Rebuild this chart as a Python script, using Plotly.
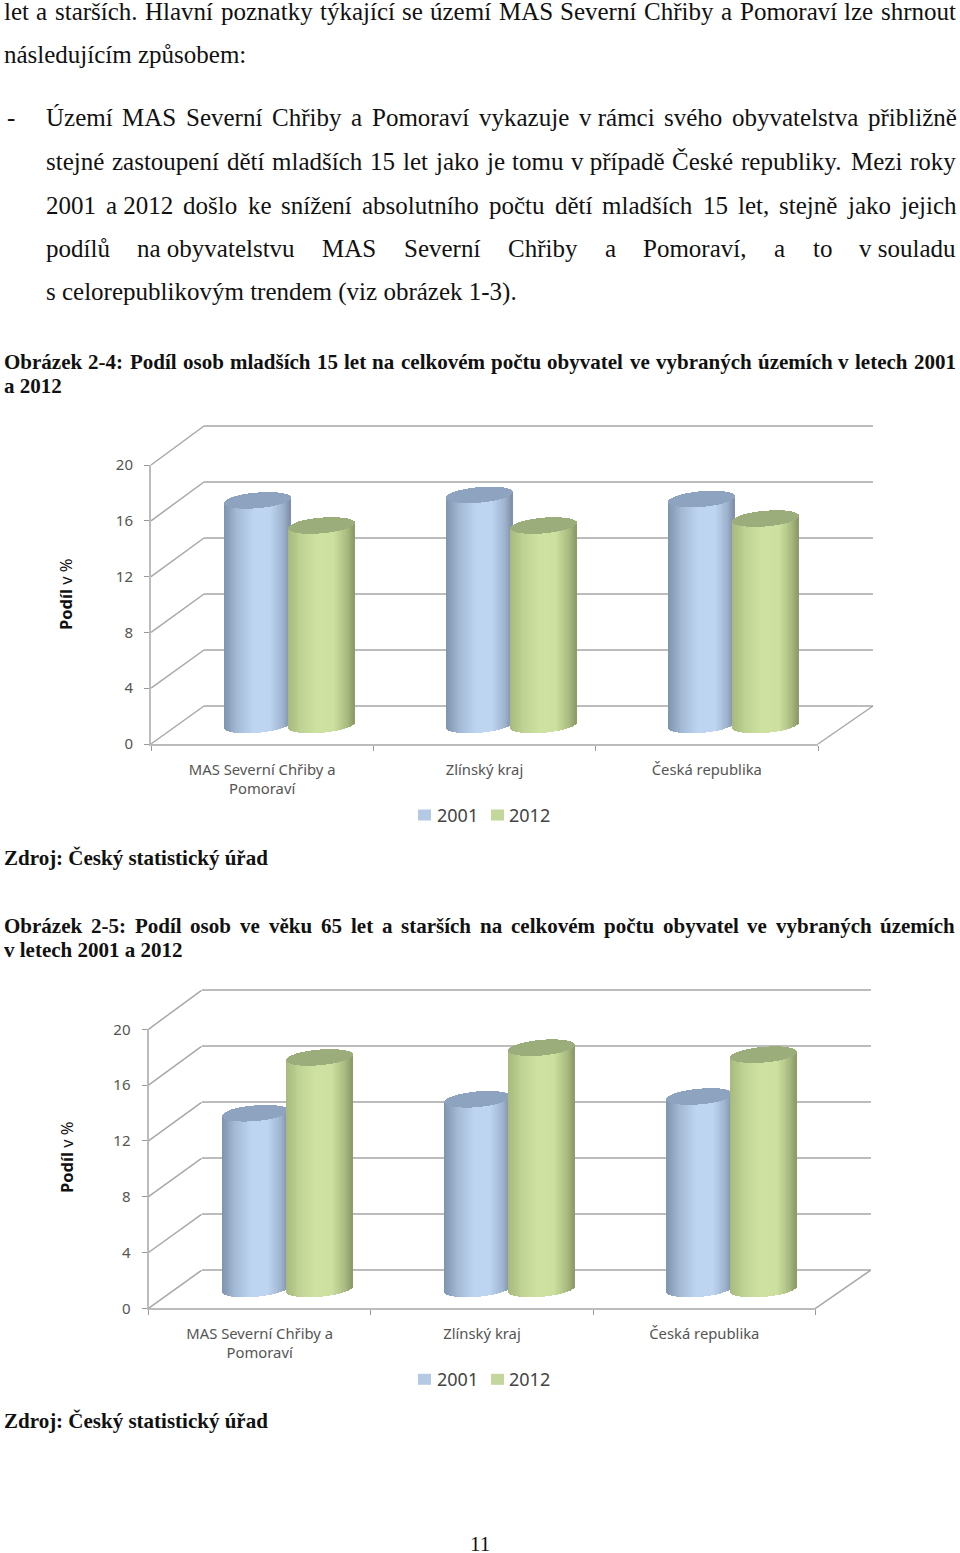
import numpy as np
import plotly.graph_objects as go

W, H = 960, 1553

# ---- data ----
categories = ["MAS Severní Chřiby a<br>Pomoraví", "Zlínský kraj", "Česká republika"]
years = ["2001", "2012"]
young_2001 = [16.1, 16.5, 16.2]
young_2012 = [14.3, 14.3, 14.8]
old_2001 = [12.6, 13.6, 13.8]
old_2012 = [16.6, 17.3, 16.8]
y_ticks = [0, 4, 8, 12, 16, 20]

# ---- page text ----
SERIF = "Liberation Serif"
BODY, CAP = 25, 21
justified = [
    ("let a starších. Hlavní poznatky týkající se území MAS Severní Chřiby a Pomoraví lze shrnout", 4, 956, 11),
    ("Území MAS Severní Chřiby a Pomoraví vykazuje v\u00a0rámci svého obyvatelstva přibližně", 46, 957, 118),
    ("stejné zastoupení dětí mladších 15 let jako je tomu v\u00a0případě České republiky. Mezi roky", 46, 956, 161.5),
    ("2001 a\u00a02012 došlo ke snížení absolutního počtu dětí mladších 15 let, stejně jako jejich", 46, 956, 205),
    ("podílů na\u00a0obyvatelstvu MAS Severní Chřiby a Pomoraví, a to v\u00a0souladu", 46, 956, 248.5),
]
plain = [
    ("následujícím způsobem:", 4, 54),
    ("-", 7, 118),
    ("s\u00a0celorepublikovým trendem (viz obrázek 1-3).", 46, 292),
]
justified_bold = [
    ("Obrázek 2-4: Podíl osob mladších 15 let na celkovém počtu obyvatel ve vybraných územích v letech 2001", 4, 956, 362),
    ("Obrázek 2-5: Podíl osob ve věku 65 let a starších na celkovém počtu obyvatel ve vybraných územích", 4, 955, 926),
]
plain_bold = [
    ("a 2012", 4, 386),
    ("Zdroj: Český statistický úřad", 4, 858),
    ("v\u00a0letech 2001 a 2012", 4, 950),
    ("Zdroj: Český statistický úřad", 4, 1421),
]

# Times-compatible advance widths, used only to justify lines of text
REG = dict(zip("abcdefghijklmnopqrstuvwxyz", [444,500,444,500,444,333,500,500,278,278,500,278,778,500,500,500,500,333,389,278,500,500,722,500,500,444]))
REG.update(zip("ABCDEFGHIJKLMNOPQRSTUVWXYZ", [722,667,667,722,611,556,722,722,333,389,722,611,889,722,722,556,722,667,556,611,722,722,944,722,722,611]))
BLD = dict(zip("abcdefghijklmnopqrstuvwxyz", [500,556,444,556,444,333,500,556,278,333,556,278,833,556,500,556,556,444,389,333,556,500,722,500,500,444]))
BLD.update(zip("ABCDEFGHIJKLMNOPQRSTUVWXYZ", [722,667,722,722,667,611,778,778,389,500,778,667,944,722,778,611,778,722,556,667,722,722,1000,722,722,667]))
ACC = str.maketrans("áčďéěíňóřšťúůýžÁČĎÉĚÍŇÓŘŠŤÚŮÝŽ", "acdeeinorstuuyzACDEEINORSTUUYZ")
def text_width(s, size, table):
    tot = 0
    for c in s.translate(ACC):
        if c.isdigit(): tot += 500
        elif c in " \u00a0,.": tot += 250
        elif c == ":": tot += 278 if table is REG else 333
        elif c in "-()": tot += 333
        else: tot += table.get(c, 500)
    return tot * size / 1000

annotations = []
def px_text(s, x, y, size, bold=False, color="#111111", font=SERIF, **kw):
    annotations.append(dict(text=f"<b>{s}</b>" if bold else s, x=x / W, y=1 - y / H, xref="paper", yref="paper",
                            xanchor=kw.pop("xanchor", "left"), yanchor="middle", showarrow=False, borderpad=0,
                            font=dict(family=font, size=size, color=color), **kw))
def justify(s, x0, x1, y, size, bold=False):
    table = BLD if bold else REG
    words = s.split(" ")
    widths = [text_width(w, size, table) for w in words]
    gap = (x1 - x0 - sum(widths)) / (len(words) - 1)
    x = x0
    for w, wd in zip(words, widths):
        px_text(w, x, y, size, bold)
        x += wd + gap

for s, a, b, y in justified: justify(s, a - 1, b - 1, y, BODY)
for s, x, y in plain: px_text(s, x - 1, y, BODY)
for s, a, b, y in justified_bold: justify(s, a - 1, b - 1, y, CAP, True)
for s, x, y in plain_bold: px_text(s, x - 1, y, CAP, True)
px_text("11", 480, 1544, 21, xanchor="center")

# ---- chart geometry (pixels of the page) ----
SANS = "Noto Sans"
GRID = "#bcbcbc"
PXU = 13.95
charts = [
    dict(vals=(young_2001, young_2012), dx=0.0, dy=0.0, title_y=594),
    dict(vals=(old_2001, old_2012), dx=-2.5, dy=564.3, title_y=1157),
]
BLUE = dict(name=years[0], solid="#b4c9e3", cap="#8ea3bf",
            stops=["#7f94ae", "#a3b9d4", "#bed5f1", "#bed5f1", "#9db2cd", "#7e90a9"])
GREEN = dict(name=years[1], solid="#c3d69b", cap="#9bad7a",
             stops=["#a8ba7e", "#bfd394", "#cfe2a1", "#cde09f", "#a9ba80", "#8b9a68"])
STOP_U = [-1, -0.6, -0.1, 0.4, 0.8, 1]
def shade(stops, u):
    rgb = np.array([[int(c[i:i + 2], 16) for i in (1, 3, 5)] for c in stops])
    return [f"rgb({int(np.interp(a, STOP_U, rgb[:,0]))},{int(np.interp(a, STOP_U, rgb[:,1]))},{int(np.interp(a, STOP_U, rgb[:,2]))})" for a in u]

BAR_W, BAR_OFF, RY, SHEAR, N = 0.297, 0.144, 0.56, 0.2, 67
u = (np.arange(N) + 0.5) / N * 2 - 1
arc = np.sqrt(1 - u ** 2)

fig = go.Figure()
layout = {}
shapes = []

def dom_x(a, b): return [a / W, b / W]
def dom_y(top, bot): return [1 - bot / H, 1 - top / H]

for ci, ch in enumerate(charts):
    dx, dy = ch["dx"], ch["dy"]
    n = 3 * ci
    wall, front, bars = n + 1, n + 2, n + 3
    name = lambda k: "" if k == 1 else str(k)
    # back wall: gridlines only
    layout[f"xaxis{name(wall)}"] = dict(domain=dom_x(204 + dx, 873 + dx), range=[0, 1], visible=False, anchor=f"y{name(wall)}")
    layout[f"yaxis{name(wall)}"] = dict(domain=dom_y(426 - PXU * .5 + dy, 706 + PXU * .5 + dy), range=[-0.5, 20.5],
                                        tickvals=y_ticks, showticklabels=False, ticks="", showgrid=True, gridcolor=GRID,
                                        gridwidth=2, zeroline=False, showline=False, anchor=f"x{name(wall)}")
    fig.add_trace(go.Scatter(x=[0.5] * len(y_ticks), y=y_ticks, mode="markers", marker=dict(opacity=0), hoverinfo="skip",
                             showlegend=False, xaxis=f"x{name(wall)}", yaxis=f"y{name(wall)}"))
    # front axes: tick labels
    layout[f"xaxis{name(front)}"] = dict(domain=dom_x(151 + dx, 818 + dx), type="category", categoryorder="array", categoryarray=categories,
                                         tickson="boundaries", ticks="outside", ticklen=5, tickcolor="#999999", tickwidth=1,
                                         showline=True, linecolor=GRID, linewidth=2, showgrid=False, zeroline=False,
                                         ticklabelstandoff=11, tickfont=dict(family=SANS, size=14.8, color="#555555"),
                                         anchor=f"y{name(front)}", range=[-0.5, 2.5], tickangle=0)
    layout[f"yaxis{name(front)}"] = dict(domain=dom_y(465 + dy, 744 + dy), range=[0, 20], tickvals=y_ticks, ticks="outside", ticklen=5,
                                         tickcolor="#999999", tickwidth=1, showline=True, linecolor=GRID, linewidth=2,
                                         showgrid=False, zeroline=False, ticklabelstandoff=8,
                                         tickfont=dict(family=SANS, size=15, color="#555555"), anchor=f"x{name(front)}")
    fig.add_trace(go.Scatter(x=categories, y=ch["vals"][0], mode="markers", marker=dict(opacity=0), hoverinfo="skip",
                             showlegend=False, xaxis=f"x{name(front)}", yaxis=f"y{name(front)}"))
    # cylinders
    layout[f"xaxis{name(bars)}"] = dict(domain=dom_x(178 + dx, 845 + dx), range=[-0.5, 2.5], visible=False, anchor=f"y{name(bars)}")
    layout[f"yaxis{name(bars)}"] = dict(domain=dom_y(446 + dy, 725 + 1.5 * PXU + dy), range=[-1.5, 20], visible=False, anchor=f"x{name(bars)}")
    for vals, st, off in zip(ch["vals"], (BLUE, GREEN), (-BAR_OFF, BAR_OFF)):
        idx = np.arange(len(vals))
        fig.add_trace(go.Bar(x=idx + off, y=vals, width=BAR_W * 0.9, name=st["name"], marker=dict(color=st["solid"], line_width=0),
                             showlegend=False, xaxis=f"x{name(bars)}", yaxis=f"y{name(bars)}",
                             hovertext=categories, hoverinfo="text+y"))
        xs, ys, bs, cs = [], [], [], []
        colors = shade(st["stops"], u)
        for i, v in zip(idx, vals):
            cx = i + off + u * BAR_W / 2
            # body: curved bottom, sheared top
            bot = SHEAR * u - RY * arc
            xs += list(cx); bs += list(bot); ys += list(v + SHEAR * u - bot); cs += colors
            # top cap
            xs += list(cx); bs += list(v + SHEAR * u - RY * arc); ys += list(2 * RY * arc); cs += [st["cap"]] * N
        fig.add_trace(go.Bar(x=xs, y=ys, base=bs, width=BAR_W / N * 1.05, marker=dict(color=cs, line_width=0), showlegend=False,
                             hoverinfo="skip", xaxis=f"x{name(bars)}", yaxis=f"y{name(bars)}"))
    # perspective edges between front axis and back wall
    for t in y_ticks:
        y_front = 744 + dy - t * (744 - 465) / 20
        y_back = 706 + dy - t * (706 - 426) / 20
        shapes.append(dict(type="line", xref="paper", yref="paper", x0=(151 + dx) / W, x1=(204 + dx) / W,
                           y0=1 - y_front / H, y1=1 - y_back / H, line=dict(color="#a8a8a8", width=1.5)))
    shapes.append(dict(type="line", xref="paper", yref="paper", x0=(818 + dx) / W, x1=(873 + dx) / W,
                       y0=1 - (744 + dy) / H, y1=1 - (706 + dy) / H, line=dict(color="#a8a8a8", width=1.5)))
    # y title
    annotations.append(dict(text="<b>Podíl</b> v %", x=66 / W, y=1 - ch["title_y"] / H, xref="paper", yref="paper", textangle=-90,
                            xanchor="center", yanchor="middle", showarrow=False, font=dict(family=SANS, size=16.5, color="#111111")))
    # legend
    for st, sx, tx in ((BLUE, 418, 436), (GREEN, 491, 508)):
        shapes.append(dict(type="rect", xref="paper", yref="paper", x0=sx / W, x1=(sx + 13) / W,
                           y0=1 - (820.5 + dy) / H, y1=1 - (809.5 + dy) / H, fillcolor=st["solid"], line_width=0))
        annotations.append(dict(text=st["name"], x=tx / W, y=1 - (815 + dy) / H, xref="paper", yref="paper", xanchor="left",
                                yanchor="middle", showarrow=False, borderpad=0, font=dict(family=SANS, size=18, color="#444444")))

fig.update_layout(width=W, height=H, margin=dict(l=0, r=0, t=0, b=0, autoexpand=False), paper_bgcolor="white",
                  plot_bgcolor="rgba(0,0,0,0)", barmode="overlay", bargap=0, showlegend=False,
                  annotations=annotations, shapes=shapes, **layout)
fig.write_html("out.html", config={"displayModeBar": False},
               post_script="document.body.style.margin='0';document.documentElement.style.overflow='hidden';")
